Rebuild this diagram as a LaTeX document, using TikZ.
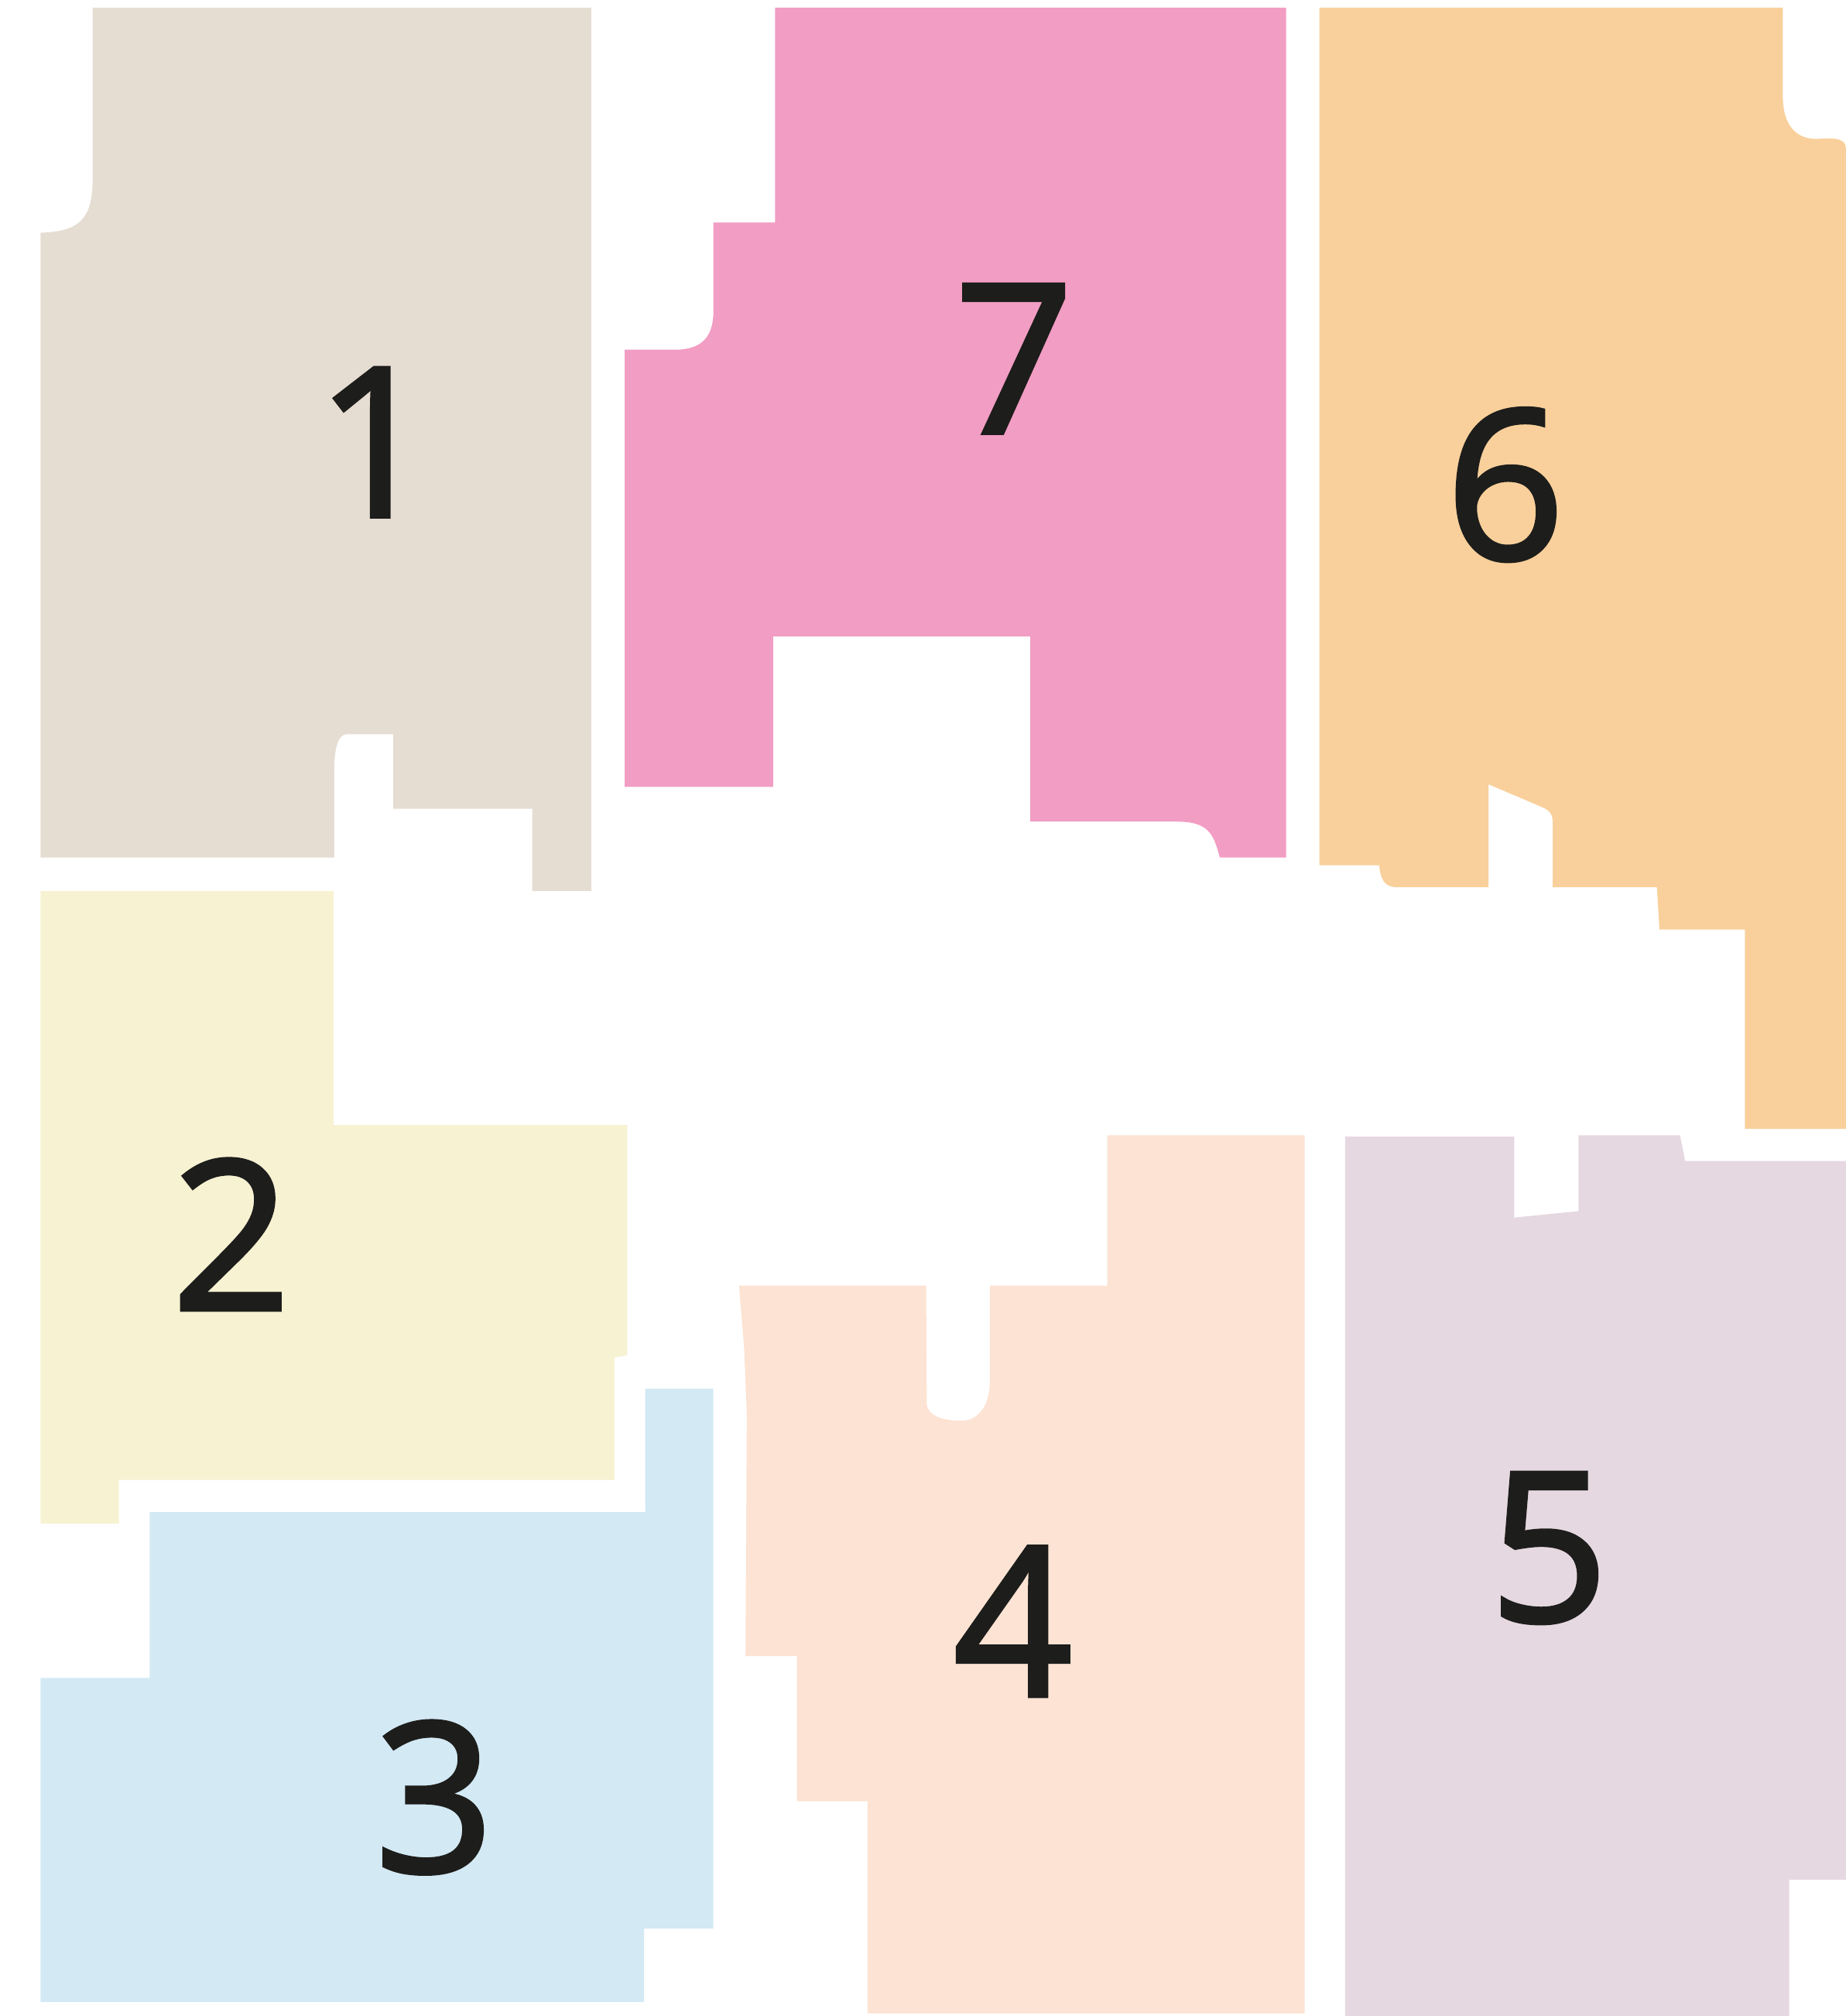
\documentclass[tikz,border=0pt]{standalone}
\usepackage{fontspec}
\setmainfont{Open Sans}
\newfontfamily\numfont{Open Sans}[FakeBold=2]
\definecolor{roomone}{HTML}{E6DDD2}
\definecolor{roomtwo}{HTML}{F7F2D2}
\definecolor{roomthree}{HTML}{D3E9F4}
\definecolor{roomfour}{HTML}{FCE3D3}
\definecolor{roomfive}{HTML}{E6D8E0}
\definecolor{roomsix}{HTML}{F9D09B}
\definecolor{roomseven}{HTML}{F29DC3}
\definecolor{numdark}{HTML}{1D1D1B}
\tikzset{
  room/.style={draw=none},
  roomnum/.style={font=\numfont\fontsize{46}{46}\selectfont, text=numdark, inner sep=0pt}
}
\begin{document}
\begin{tikzpicture}[x=0.01cm,y=-0.01cm]
\useasboundingbox (0,0) rectangle (1436,1568);
% room 1
\fill[room, roomone] (72,6) -- (460,6) -- (460,693) -- (414,693) -- (414,629) -- (306,629) -- (306,571) -- (270,571)
  .. controls (262,571) and (260,585) .. (260,600) -- (260,667) -- (31.5,667) -- (31.5,181)
  .. controls (60,180) and (72,172) .. (72,140) -- cycle;
% room 2
\fill[room, roomtwo] (31.5,693) -- (259.5,693) -- (259.5,875) -- (488,875) -- (488,1054) -- (478,1056) -- (478,1151)
  -- (92.5,1151) -- (92.5,1185) -- (31.5,1185) -- cycle;
% room 3
\fill[room, roomthree] (116.5,1176) -- (502,1176) -- (502,1080) -- (555,1080) -- (555,1500) -- (501,1500) -- (501,1557)
  -- (31.5,1557) -- (31.5,1305) -- (116.5,1305) -- cycle;
% room 4
\fill[room, roomfour] (575,1000) -- (720.5,1000) -- (721,1092) .. controls (722,1102) and (735,1105) .. (748,1105)
  .. controls (762,1105) and (770,1092) .. (770,1075) -- (770,1000) -- (861.5,1000) -- (861.5,883) -- (1015,883)
  -- (1015,1566) -- (675,1566) -- (675,1401) -- (620,1401) -- (620,1288) -- (580,1288) -- (581,1100) -- (579,1050) -- cycle;
% room 5
\fill[room, roomfive] (1046.5,884) -- (1178,884) -- (1178,947) -- (1228,942) -- (1228,883) -- (1307,883) -- (1311,903)
  -- (1436,903) -- (1436,1462) -- (1392,1462) -- (1392,1568) -- (1046.5,1568) -- cycle;
% room 6
\fill[room, roomsix] (1026.5,6) -- (1387,6) -- (1387,75) .. controls (1387,98) and (1398,109) .. (1415,108)
  .. controls (1428,107) and (1436,108) .. (1436,115) -- (1436,878) -- (1357.5,878) -- (1357.5,723) -- (1291,723) -- (1289,690)
  -- (1208,690) -- (1208,640) .. controls (1208,632) and (1205,630) .. (1198,627) -- (1158,610) -- (1158,690) -- (1085,690)
  .. controls (1077,689) and (1074,684) .. (1073,673) -- (1026.5,673) -- cycle;
% room 7
\fill[room, roomseven] (603,6) -- (1000.5,6) -- (1000.5,667) -- (949,667) .. controls (944,648) and (940,639) .. (915,639)
  -- (801.5,639) -- (801.5,495) -- (601.5,495) -- (601.5,612) -- (486,612) -- (486,272) -- (525,272)
  .. controls (546,272) and (555,262) .. (555,242) -- (555,173) -- (603,173) -- cycle;
% numbers
\node[roomnum] (one) at (292,344) {1};
\node[roomnum] (two) at (180,960) {2};
\node[roomnum] (three) at (338,1398) {3};
\node[roomnum] (four) at (788,1261) {4};
\node[roomnum] (five) at (1205,1204) {5};
\node[roomnum] (six) at (1171,377) {6};
\node[roomnum] (seven) at (789,279) {7};
\end{tikzpicture}
\end{document}
